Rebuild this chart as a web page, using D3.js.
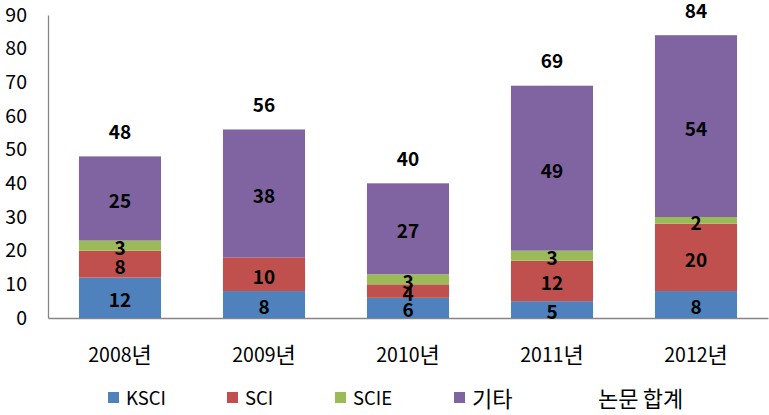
<!DOCTYPE html>
<html><head><meta charset="utf-8">
<script src="https://cdn.jsdelivr.net/npm/d3@7"></script>
<style>body{margin:0;background:#fff}svg{display:block}text{font-family:"Noto Sans CJK KR","Noto Sans",sans-serif}</style>
</head><body><svg id="c" width="769" height="415"></svg>
<script>
const categories = ["2008년","2009년","2010년","2011년","2012년"];
const seriesNames = ["KSCI","SCI","SCIE","기타"];
const KSCI = [12, 8, 6, 5, 8];
const SCI = [8, 10, 4, 12, 20];
const SCIE = [3, 0, 3, 3, 2];
const other = [25, 38, 27, 49, 54];
const totals = [48, 56, 40, 69, 84];
const yTicks = [0,10,20,30,40,50,60,70,80,90];
const colors = ["#4F81BD","#C0504D","#9BBB59","#8064A2"];
const totalName = "논문 합계";

const svg = d3.select("#c");
const x = d3.scaleBand().domain(categories).range([48, 768]).paddingInner(0.43).paddingOuter(0.215);
const y = d3.scaleLinear().domain([0, 90]).range([318, 15]);

// write text with Hangul runs in a larger size (to mimic Malgun Gothic proportions)
function mixed(sel, str, base, hangul) {
  sel.text(null);
  const parts = str.match(/[\uAC00-\uD7A3\u3131-\u318E]+|[^\uAC00-\uD7A3\u3131-\u318E]+/g) || [];
  parts.forEach(p => {
    const isH = /[\uAC00-\uD7A3]/.test(p);
    sel.append("tspan").attr("font-size", isH ? hangul : base).text(p);
  });
}

const rows = categories.map((c, i) => ({cat: c, KSCI: KSCI[i], SCI: SCI[i], SCIE: SCIE[i], "기타": other[i]}));
const stacked = d3.stack().keys(seriesNames)(rows);

// axes
const yAxis = svg.append("g").attr("transform", "translate(48,0)")
  .call(d3.axisLeft(y).tickValues(yTicks).tickSize(0).tickPadding(0));
yAxis.select(".domain").attr("stroke", "#868686").attr("stroke-width", 1.3);
yAxis.selectAll("text").attr("x", -21).attr("font-size", 19.5).attr("fill", "#000")
  .style("font-family", '"Noto Sans CJK KR",sans-serif');

const xAxis = svg.append("g").attr("transform", "translate(0,318)")
  .call(d3.axisBottom(x).tickSize(0).tickPadding(0));
xAxis.select(".domain").attr("stroke", "#868686").attr("stroke-width", 1.3);
xAxis.selectAll("text").attr("dy", null).attr("y", 35).attr("dominant-baseline", "central")
  .attr("font-size", 19.5).attr("fill", "#000")
  .each(function(d) { mixed(d3.select(this), d, 19.5, 22); });

// bars
const layers = svg.append("g").selectAll("g").data(stacked).join("g")
  .attr("fill", (d, i) => colors[i]);
layers.selectAll("rect").data(d => d).join("rect")
  .attr("x", d => x(d.data.cat))
  .attr("width", x.bandwidth())
  .attr("y", d => y(d[1]))
  .attr("height", d => y(d[0]) - y(d[1]));

// segment labels
const lab = svg.append("g");
stacked.forEach(layer => {
  layer.forEach(d => {
    const v = d[1] - d[0];
    if (v <= 0) return;
    lab.append("text")
      .attr("x", x(d.data.cat) + x.bandwidth() / 2)
      .attr("y", (y(d[0]) + y(d[1])) / 2 + 1)
      .attr("text-anchor", "middle").attr("dominant-baseline", "central")
      .attr("font-size", 19).attr("font-weight", "bold").attr("fill", "#000")
      .text(v);
  });
});

// totals
svg.append("g").selectAll("text").data(totals).join("text")
  .attr("x", (d, i) => x(categories[i]) + x.bandwidth() / 2)
  .attr("y", d => y(d) - 26)
  .attr("text-anchor", "middle").attr("dominant-baseline", "central")
  .attr("font-size", 19).attr("font-weight", "bold").attr("fill", "#000")
  .text(d => d);

// legend
const legX = [108, 227, 335, 454];
const leg = svg.append("g");
seriesNames.forEach((n, i) => {
  leg.append("rect").attr("x", legX[i]).attr("y", 392).attr("width", 11).attr("height", 11).attr("fill", colors[i]);
  const t = leg.append("text").attr("x", legX[i] + 18).attr("y", 397).attr("dominant-baseline", "central")
    .attr("font-size", 18.5).attr("fill", "#000");
  mixed(t, n, 18.5, 22);
});
const tt = leg.append("text").attr("x", 598).attr("y", 397).attr("dominant-baseline", "central")
  .attr("font-size", 22).attr("fill", "#000");
mixed(tt, totalName, 18.5, 22);
</script></body></html>
